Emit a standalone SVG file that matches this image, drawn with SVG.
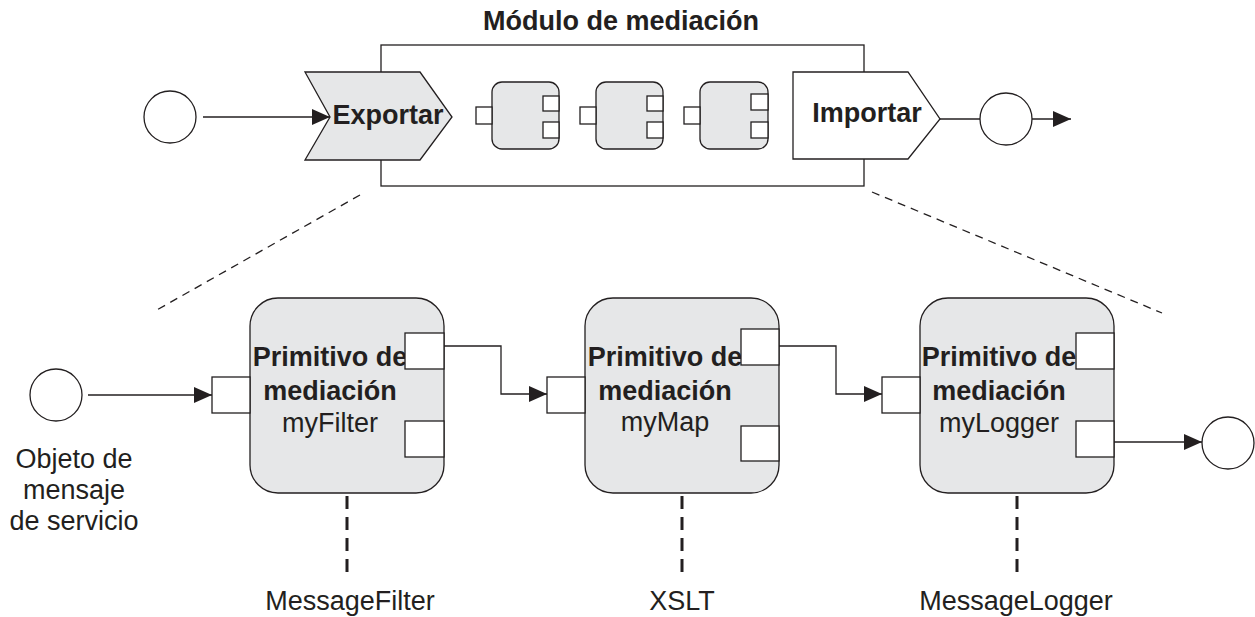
<svg xmlns="http://www.w3.org/2000/svg" width="1255" height="617" viewBox="0 0 1255 617">
<style>
.ln{fill:none;stroke:#231f20;stroke-width:1.3}
.gray{fill:#e6e7e8;stroke:#231f20;stroke-width:1.3}
.wh{fill:#ffffff;stroke:#231f20;stroke-width:1.3}
.b{font-family:"Liberation Sans",Arial,sans-serif;font-weight:bold;font-size:27px;fill:#231f20;text-anchor:middle}
.r{font-family:"Liberation Sans",Arial,sans-serif;font-size:27px;fill:#231f20;text-anchor:middle}
.dd{fill:none;stroke:#231f20;stroke-width:1.3;stroke-dasharray:8 6}
.vd{fill:none;stroke:#231f20;stroke-width:3;stroke-dasharray:13 8}
</style>
<defs>
<marker id="arr" markerUnits="userSpaceOnUse" markerWidth="19" markerHeight="17" refX="18" refY="8" orient="auto">
<path d="M0,0 L18,8 L0,16 z" fill="#231f20"/>
</marker>
</defs>
<rect width="1255" height="617" fill="#ffffff"/>

<g id="module">
<text class="b" x="621" y="30">Módulo de mediación</text>
<rect class="ln" x="381" y="45" width="483" height="141"/>
</g>
<g id="export">
<polygon class="gray" points="305,72 420,72 452,117 420,160 305,160 330,117"/>
<text class="b" x="388" y="124">Exportar</text>
</g>
<g id="comp1">
<rect class="gray" x="492" y="82" width="67" height="67" rx="10"/>
<rect class="wh" x="476" y="107" width="16" height="17"/>
<rect class="wh" x="543" y="96" width="16" height="15"/>
<rect class="wh" x="543" y="122" width="16" height="16"/>
</g>
<g id="comp2">
<rect class="gray" x="596" y="82" width="67" height="67" rx="10"/>
<rect class="wh" x="580" y="107" width="16" height="17"/>
<rect class="wh" x="647" y="96" width="16" height="15"/>
<rect class="wh" x="647" y="122" width="16" height="16"/>
</g>
<g id="comp3">
<rect class="gray" x="700" y="82" width="68" height="67" rx="10"/>
<rect class="wh" x="684" y="107" width="16" height="17"/>
<rect class="wh" x="751" y="94" width="17" height="16"/>
<rect class="wh" x="751" y="122" width="17" height="16"/>
</g>
<g id="import">
<polygon class="wh" points="793,72 908,72 940,119 908,159 793,159"/>
<text class="b" x="867" y="122">Importar</text>
</g>
<g id="inTop"><circle class="wh" cx="170" cy="117" r="26"/></g>
<g id="outTop"><circle class="wh" cx="1006" cy="119" r="26"/></g>

<g id="smo">
<circle class="wh" cx="56" cy="395" r="26"/>
<text class="r" x="74" y="468">Objeto de</text>
<text class="r" x="74" y="499">mensaje</text>
<text class="r" x="74" y="530">de servicio</text>
</g>

<g id="myFilter">
<rect class="gray" x="250" y="298" width="194" height="195" rx="28"/>
<text class="b" x="330" y="366">Primitivo de</text>
<text class="b" x="330" y="400">mediación</text>
<text class="r" x="330" y="432">myFilter</text>
<rect class="wh" x="212" y="377" width="38" height="36"/>
<rect class="wh" x="405" y="333" width="39" height="36"/>
<rect class="wh" x="405" y="421" width="39" height="36"/>
</g>
<g id="myMap">
<rect class="gray" x="585" y="298" width="194" height="195" rx="28"/>
<text class="b" x="665" y="366">Primitivo de</text>
<text class="b" x="665" y="400">mediación</text>
<text class="r" x="665" y="431">myMap</text>
<rect class="wh" x="547" y="377" width="38" height="36"/>
<rect class="wh" x="741" y="329" width="38" height="36"/>
<rect class="wh" x="741" y="426" width="38" height="35"/>
</g>
<g id="myLogger">
<rect class="gray" x="920" y="298" width="194" height="195" rx="28"/>
<text class="b" x="999" y="366">Primitivo de</text>
<text class="b" x="999" y="400">mediación</text>
<text class="r" x="999" y="432">myLogger</text>
<rect class="wh" x="882" y="377" width="38" height="36"/>
<rect class="wh" x="1076" y="333" width="38" height="36"/>
<rect class="wh" x="1076" y="421" width="38" height="36"/>
</g>
<g id="outBottom"><circle class="wh" cx="1228" cy="443" r="26"/></g>

<g id="lblFilter"><text class="r" x="350" y="610">MessageFilter</text></g>
<g id="lblXSLT"><text class="r" x="682" y="610">XSLT</text></g>
<g id="lblLogger"><text class="r" x="1016" y="610">MessageLogger</text></g>

<g id="connectors">
<line class="ln" x1="203" y1="117" x2="330" y2="117" marker-end="url(#arr)"/>
<line class="ln" x1="940" y1="119" x2="980" y2="119"/>
<line class="ln" x1="1032" y1="119" x2="1071" y2="119" marker-end="url(#arr)"/>
<line class="ln" x1="88" y1="395" x2="212" y2="395" marker-end="url(#arr)"/>
<polyline class="ln" points="444,346 501,346 501,394 547,394" marker-end="url(#arr)"/>
<polyline class="ln" points="779,346 836,346 836,394 882,394" marker-end="url(#arr)"/>
<line class="ln" x1="1114" y1="442" x2="1202" y2="442" marker-end="url(#arr)"/>
<line class="dd" x1="360" y1="195" x2="155" y2="311"/>
<line class="dd" x1="872" y1="192" x2="1162" y2="313"/>
<line class="vd" x1="347" y1="496" x2="347" y2="576"/>
<line class="vd" x1="682" y1="496" x2="682" y2="576"/>
<line class="vd" x1="1017" y1="496" x2="1017" y2="576"/>
</g>
</svg>
